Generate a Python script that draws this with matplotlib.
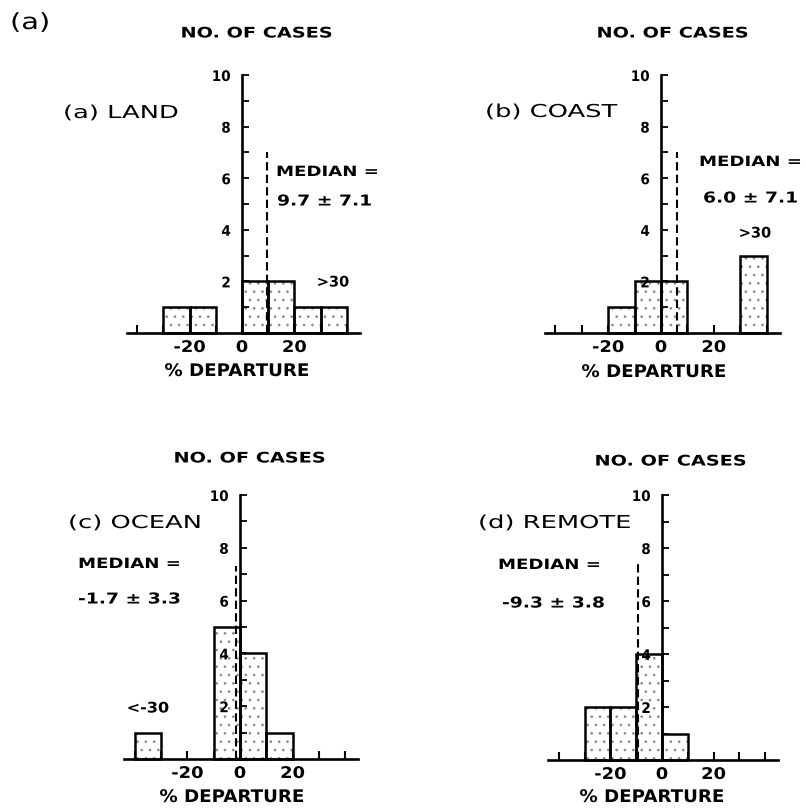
import matplotlib
matplotlib.use("Agg")
import matplotlib.pyplot as plt
from matplotlib.patheffects import AbstractPathEffect
from matplotlib.transforms import Affine2D

# ---------------- data ----------------
bin_left = [-40, -30, -20, -10, 0, 10, 20, 30]
bin_width = 10
land_counts = [0, 1, 1, 0, 2, 2, 1, 1]
coast_counts = [0, 0, 1, 2, 2, 0, 0, 3]
ocean_counts = [1, 0, 0, 5, 4, 1, 0, 0]
remote_counts = [0, 2, 2, 4, 1, 0, 0, 0]
medians = [9.7, 6.0, -1.7, -9.3]
median_err = [7.1, 7.1, 3.3, 3.8]
median_line_top = [7.0, 7.0, 7.3, 7.4]
panel_names = ["(a) LAND", "(b) COAST", "(c) OCEAN", "(d) REMOTE"]
x_ticks = [-40, -30, -20, -10, 0, 10, 20, 30, 40]
x_tick_labels = ["", "", "-20", "", "0", "", "20", "", ""]
y_ticks = list(range(0, 11))
y_tick_labels = ["", "", "2", "", "4", "", "6", "", "8", "", "10"]
overflow_labels = [">30", ">30", "<-30", None]

plt.rcParams["hatch.linewidth"] = 0.7


class HStretch(AbstractPathEffect):
    """Draw text glyphs stretched horizontally (mimics the wide typewriter face)."""

    def __init__(self, factor, mode="left"):
        super().__init__(offset=(0, 0))
        self.factor = factor
        self.mode = mode

    def draw_path(self, renderer, gc, tpath, affine, rgbFace=None):
        if self.mode == "left":
            x0 = affine.transform((0, 0))[0]
        else:
            ext = tpath.get_extents(affine)
            x0 = (ext.x0 + ext.x1) / 2 if self.mode == "center" else ext.x1
        aff = affine + Affine2D().translate(-x0, 0).scale(self.factor, 1).translate(x0, 0)
        renderer.draw_path(gc, tpath, aff, rgbFace)


W, H = 806, 809
fig = plt.figure(figsize=(W / 100, H / 100), dpi=100)

# panel placement in pixels: origin x, origin y (from top), px per x unit, px per y unit
panels = [
    dict(x0=242, y0=333, sx=2.62, sy=25.8),
    dict(x0=661, y0=333, sx=2.64, sy=25.8),
    dict(x0=240, y0=759, sx=2.63, sy=26.4),
    dict(x0=662, y0=760, sx=2.58, sy=26.5),
]
counts_all = [land_counts, coast_counts, ocean_counts, remote_counts]

XL = (-50, 50)
YL = (-0.5, 11.2)


def fx(x):
    return x / W


def fy(y):
    return 1 - y / H


fontname = "DejaVu Sans"

ylabel_pos = [(257, 33), (673, 33), (250, 458), (671, 461)]
xlabel_pos = [(237, 371), (654, 372), (232, 797), (652, 797)]

for i, p in enumerate(panels):
    left = p["x0"] - (0 - XL[0]) * p["sx"]
    width = (XL[1] - XL[0]) * p["sx"]
    bottom = p["y0"] + (0 - YL[0]) * p["sy"]
    height = (YL[1] - YL[0]) * p["sy"]
    ax = fig.add_axes([fx(left), fy(bottom), width / W, height / H])
    ax.set_xlim(*XL)
    ax.set_ylim(*YL)
    ax.patch.set_alpha(0)

    counts = counts_all[i]
    xs = [b for b, c in zip(bin_left, counts) if c > 0]
    hs = [c for c in counts if c > 0]
    # stipple
    ax.bar(xs, hs, width=bin_width, align="edge", facecolor="white",
           edgecolor="#8c8c8c", hatch="..", linewidth=0, zorder=1)
    # outline
    ax.bar(xs, hs, width=bin_width, align="edge", facecolor="none",
           edgecolor="black", linewidth=1.8, zorder=1.2)

    # median dashed line
    ax.plot([medians[i], medians[i]], [0, median_line_top[i]], color="black",
            linestyle=(0, (4, 2)), linewidth=1.5, zorder=3)

    for s in ["top", "right"]:
        ax.spines[s].set_visible(False)
    ax.spines["left"].set_position(("data", 0))
    ax.spines["bottom"].set_position(("data", 0))
    ax.spines["left"].set_bounds(0, 10)
    ax.spines["bottom"].set_bounds(-44, 45)
    ax.spines["left"].set_linewidth(1.9)
    ax.spines["bottom"].set_linewidth(1.9)
    ax.spines["left"].set_zorder(4)

    ax.set_xticks(x_ticks)
    ax.set_xticklabels(x_tick_labels, fontsize=11.5, fontweight="bold", family=fontname)
    ax.set_yticks(y_ticks)
    ax.set_yticklabels(y_tick_labels, fontsize=10.5, fontweight="bold", family=fontname)
    ax.tick_params(axis="x", direction="in", length=6, width=1.5, pad=5)
    ax.tick_params(axis="y", direction="in", length=5, width=1.3, pad=8)
    for lab in ax.get_xticklabels():
        lab.set_path_effects([HStretch(1.12, "center")])
    for lab in ax.get_yticklabels():
        lab.set_zorder(5)
        lab.set_path_effects([HStretch(0.93, "right")])

    t = fig.text(fx(ylabel_pos[i][0]), fy(ylabel_pos[i][1]), "NO. OF CASES",
                 ha="center", va="center", fontsize=10.5, fontweight="bold", family=fontname)
    t.set_path_effects([HStretch(1.32, "center")])
    t = fig.text(fx(xlabel_pos[i][0]), fy(xlabel_pos[i][1]), "% DEPARTURE",
                 ha="center", va="center", fontsize=12.5, fontweight="bold", family=fontname)
    t.set_path_effects([HStretch(1.05, "center")])

for i, (xp, yp) in enumerate([(63, 113), (485, 112), (68, 523), (478, 523)]):
    t = fig.text(fx(xp), fy(yp), panel_names[i], ha="left", va="center",
                 fontsize=12.8, family=fontname)
    t.set_path_effects([HStretch(1.45, "left")])

median_pos = [((276, 172), (277, 201)), ((699, 162), (703, 198)),
              ((78, 564), (78, 599)), ((498, 565), (502, 603))]
for i, ((mx, my), (vx, vy)) in enumerate(median_pos):
    t = fig.text(fx(mx), fy(my), "MEDIAN =", ha="left", va="center",
                 fontsize=10.2, family=fontname, fontweight="bold")
    t.set_path_effects([HStretch(1.28, "left")])
    t = fig.text(fx(vx), fy(vy), f"{medians[i]:.1f} \u00b1 {median_err[i]:.1f}",
                 ha="left", va="center", fontsize=10.8, family=fontname, fontweight="bold")
    t.set_path_effects([HStretch(1.25, "left")])

for i, (ox, oy) in enumerate([(333, 282), (755, 233), (148, 708), (None, None)]):
    if overflow_labels[i] is not None:
        t = fig.text(fx(ox), fy(oy), overflow_labels[i], ha="center", va="center",
                     fontsize=10.5, family=fontname, fontweight="bold")
        t.set_path_effects([HStretch(1.0 if i < 2 else 1.1, "center")])

t = fig.text(fx(10), fy(23), "(a)", ha="left", va="center", fontsize=16, family=fontname)
t.set_path_effects([HStretch(1.3, "left")])

fig.savefig("out.png", dpi=100)
